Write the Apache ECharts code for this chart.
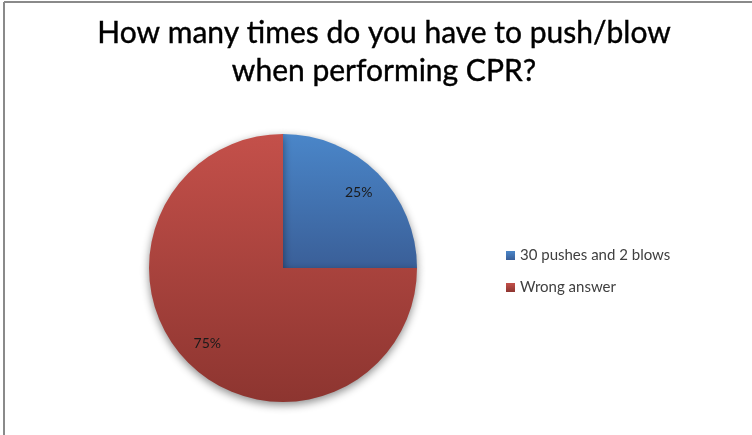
<!DOCTYPE html>
<html>
<head>
<meta charset="utf-8">
<script src="https://cdn.jsdelivr.net/npm/echarts@6/dist/echarts.min.js"></script>
<style>
  html, body { margin: 0; padding: 0; background: #fff; }
  #main { width: 752px; height: 435px; }
</style>
</head>
<body>
<div id="main"></div>
<script>
// chart data
var titleLines = ['How many times do you have to push/blow', 'when performing CPR?'];
var answers = ['30 pushes and 2 blows', 'Wrong answer'];
var shares = [25, 75];

var chartDom = document.getElementById('main');
var myChart = echarts.init(chartDom);

var fills = [
  new echarts.graphic.LinearGradient(0, 0, 0, 1, [
    { offset: 0, color: '#4a86c9' }, { offset: 1, color: '#3a5f98' }
  ]),
  new echarts.graphic.LinearGradient(0, 0, 0, 1, [
    { offset: 0, color: '#c4504a' }, { offset: 1, color: '#8d3530' }
  ])
];

var pieData = answers.map(function (name, i) {
  return { name: name, value: shares[i], itemStyle: { color: fills[i] } };
});
// same values, only used to place the percent labels a bit further out
var labelData = answers.map(function (name, i) {
  return { name: name, value: shares[i] };
});

var option = {
  animation: false,
  textStyle: { fontFamily: 'Lato' },
  title: {
    text: titleLines.join('\n'),
    left: 379,
    top: 9,
    textAlign: 'center',
    textStyle: { fontSize: 30, fontWeight: 'normal', color: '#000', lineHeight: 38, fontFamily: 'Lato',
      textBorderColor: '#000', textBorderWidth: 0.4 }
  },
  legend: {
    orient: 'vertical',
    left: 501,
    top: 243,
    itemWidth: 9,
    itemHeight: 9,
    itemGap: 17,
    icon: 'rect',
    data: answers,
    textStyle: { fontSize: 15, color: '#404040', fontFamily: 'Lato' }
  },
  graphic: [
    { type: 'line', shape: { x1: 4, y1: 2, x2: 4, y2: 435 }, style: { stroke: '#8a8a8a', lineWidth: 2 } },
    { type: 'line', shape: { x1: 4, y1: 2, x2: 752, y2: 2 }, style: { stroke: '#8a8a8a', lineWidth: 2 } }
  ],
  series: [
    {
      type: 'pie',
      center: [283, 268],
      radius: 134,
      startAngle: 90,
      silent: true,
      label: { show: false },
      labelLine: { show: false },
      itemStyle: { shadowBlur: 8, shadowOffsetY: 3, shadowColor: 'rgba(0,0,0,0.45)' },
      data: pieData
    },
    {
      type: 'pie',
      center: [283, 268],
      radius: [74, 134],
      startAngle: 90,
      silent: true,
      itemStyle: { color: 'rgba(0,0,0,0)' },
      label: {
        show: true,
        position: 'inside',
        formatter: '{d}%',
        fontSize: 14,
        color: '#1a1a1a',
        fontFamily: 'Lato'
      },
      labelLine: { show: false },
      data: labelData
    }
  ]
};

myChart.setOption(option);
</script>
</body>
</html>
